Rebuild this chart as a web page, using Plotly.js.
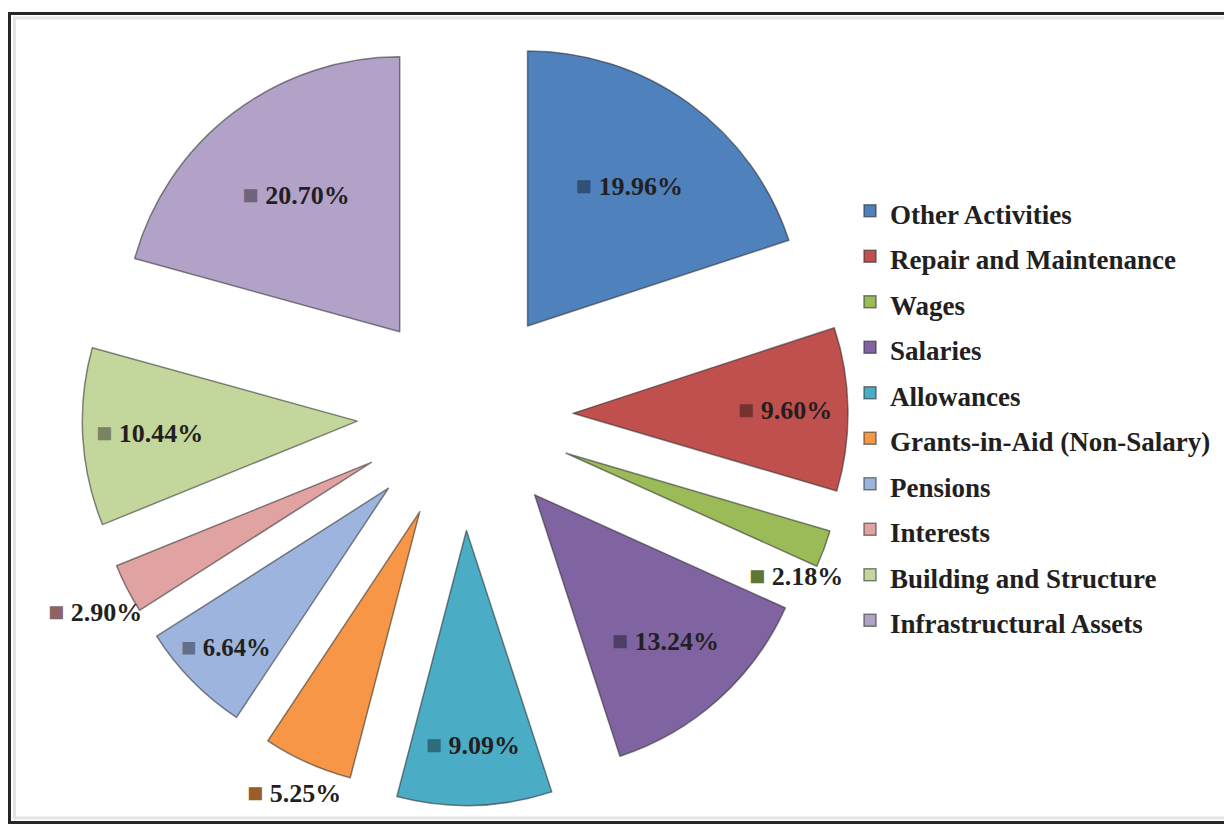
<!DOCTYPE html>
<html>
<head>
<meta charset="utf-8">
<script src="https://cdn.plot.ly/plotly-3.0.1.min.js"></script>
<style>
  html, body { margin: 0; padding: 0; background: #ffffff; }
  #chart { width: 1224px; height: 824px; }
</style>
</head>
<body>
<div id="chart"></div>
<script>
const labels = ['Other Activities', 'Repair and Maintenance', 'Wages', 'Salaries', 'Allowances',
  'Grants-in-Aid (Non-Salary)', 'Pensions', 'Interests', 'Building and Structure', 'Infrastructural Assets'];
const values = [19.96, 9.60, 2.18, 13.24, 9.09, 5.25, 6.64, 2.90, 10.44, 20.70];
const colors = ['#4F81BD', '#C0504D', '#9BBB59', '#8064A2', '#4BACC6',
  '#F79646', '#9DB5DE', '#E0A3A2', '#C3D69B', '#B3A2C7'];
const pulls = [0.40, 0.40, 0.40, 0.39, 0.42, 0.385, 0.38, 0.375, 0.385, 0.38];
// which labels sit outside their slice (drawn next to the slice end)
const outsideLabel = [false, false, true, false, false, true, false, true, false, false];
// pixel offset of an outside label from its slice's outer mid point
const outsideOffsets = { 2: [-28, 27], 5: [-13, 30], 7: [-32, 23] };

function darken(hex, f) {
  const n = parseInt(hex.slice(1), 16);
  const r = Math.round(((n >> 16) & 255) * f);
  const g = Math.round(((n >> 8) & 255) * f);
  const b = Math.round((n & 255) * f);
  return 'rgb(' + r + ',' + g + ',' + b + ')';
}

const sliceText = values.map((v, i) =>
  '<span style="font-size:27px;color:' + darken(colors[i], 0.62) + '">■</span> ' + v.toFixed(2) + '%');

const serif = 'Liberation Serif, Times New Roman, serif';
const W = 1224, H = 824;

const trace = {
  type: 'pie',
  labels: labels.map(l => '<span style="font-size:27px">' + l + '</span>'),
  values: values,
  text: sliceText,
  textinfo: 'text',
  textposition: outsideLabel.map(o => o ? 'none' : 'inside'),
  insidetextorientation: 'horizontal',
  sort: false,
  direction: 'clockwise',
  rotation: 0,
  pull: pulls,
  marker: { colors: colors, line: { color: 'rgba(40,40,40,0.55)', width: 1.5 } },
  textfont: { family: serif, size: 26, color: '#231f20', weight: 'bold' },
  domain: { x: [72.5 / W, 853.5 / W], y: [(H - 805.5) / H, (H - 24.5) / H] },
  hoverinfo: 'label+percent'
};

const layout = {
  width: W,
  height: H,
  margin: { l: 0, r: 0, t: 0, b: 0, autoexpand: false },
  paper_bgcolor: '#ffffff',
  showlegend: true,
  legend: {
    x: 850 / W, xanchor: 'left',
    y: (H - 183) / H, yanchor: 'top',
    font: { family: serif, size: 32.7, color: '#231f20', weight: 'bold' },
    bgcolor: 'rgba(0,0,0,0)'
  },
  shapes: [
    { type: 'rect', xref: 'paper', yref: 'paper',
      x0: 14.5 / W, x1: 1.05, y0: (H - 818) / H, y1: (H - 18) / H,
      line: { color: '#e4e4e4', width: 3 }, layer: 'below' },
    { type: 'rect', xref: 'paper', yref: 'paper',
      x0: 9.5 / W, x1: 1.05, y0: (H - 822.5) / H, y1: (H - 13.5) / H,
      line: { color: '#262626', width: 3 }, layer: 'below' }
  ],
  annotations: []
};

const gd = document.getElementById('chart');
Plotly.newPlot(gd, [trace], layout, { displayModeBar: false, staticPlot: true }).then(() => {
  // place outside labels from the library's own computed slice geometry
  const cd = gd.calcdata[0];
  const cd0 = cd[0];
  const anns = [];
  cd.forEach((pt, k) => {
    const i = pt.i !== undefined ? pt.i : k;
    if (!outsideLabel[i]) return;
    const p = pulls[i];
    const px = cd0.cx + pt.pxmid[0] * (1 + p) + outsideOffsets[i][0];
    const py = cd0.cy + pt.pxmid[1] * (1 + p) + outsideOffsets[i][1];
    anns.push({
      xref: 'paper', yref: 'paper', x: px / W, y: 1 - py / H,
      xanchor: 'center', yanchor: 'middle', showarrow: false,
      text: sliceText[i],
      font: { family: serif, size: 26, color: '#231f20', weight: 'bold' }
    });
  });
  return Plotly.relayout(gd, { annotations: anns });
});
</script>
</body>
</html>
